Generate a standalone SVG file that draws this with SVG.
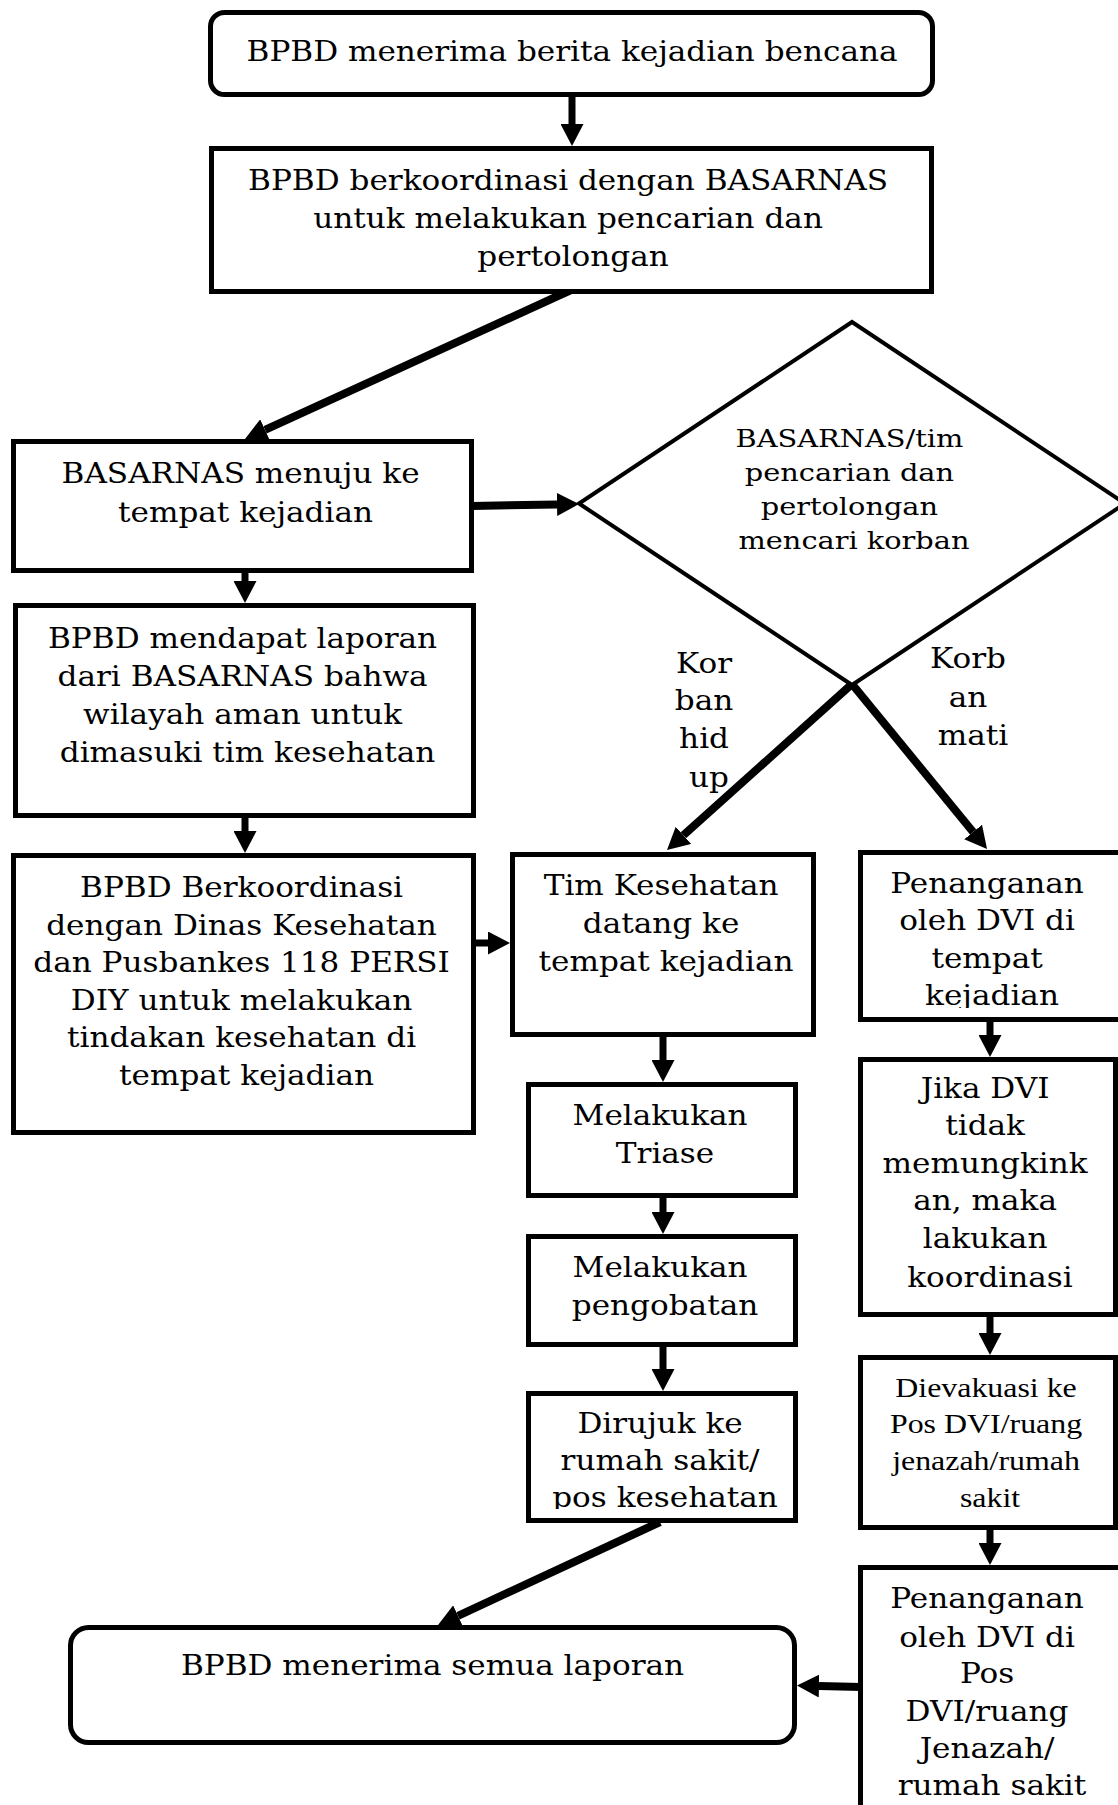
<svg xmlns="http://www.w3.org/2000/svg" width="1118" height="1805" viewBox="0 0 1118 1805">
<style>
.box{fill:#fff;stroke:#000;stroke-width:5}
.dia{fill:#fff;stroke:#000;stroke-width:4}
.t{font-family:"DejaVu Serif",serif;font-size:27px;fill:#000;text-anchor:middle}
.ts{font-family:"DejaVu Serif",serif;font-size:25px;fill:#000;text-anchor:middle}
.tt{font-family:"Liberation Serif",serif;font-size:27.7px;fill:#000;text-anchor:middle}
.c{stroke:#000;fill:none;marker-end:url(#ah)}
.thin{stroke-width:7}
.thick{stroke-width:8}
</style>
<defs>
<marker id="ah" markerUnits="userSpaceOnUse" markerWidth="22" markerHeight="23" viewBox="0 0 22 23" refX="0" refY="11.5" orient="auto"><path d="M0,0 L22,11.5 L0,23 z" fill="#000"/></marker>
<clipPath id="clip7"><rect x="850" y="840" width="280" height="168"/></clipPath>
<clipPath id="clipDir"><rect x="520" y="1385" width="290" height="124"/></clipPath>
</defs>
<rect width="1118" height="1805" fill="#fff"/>

<g id="connectors">
<line class="c thin" x1="572" y1="96" x2="572" y2="124"/>
<line class="c thick" x1="571" y1="290" x2="265" y2="429.8"/>
<line class="c thick" x1="472" y1="506" x2="557" y2="504.5"/>
<line class="c thin" x1="245" y1="571" x2="245" y2="581"/>
<line class="c thin" x1="245" y1="816" x2="245" y2="831"/>
<line class="c thin" x1="474" y1="943" x2="488" y2="943"/>
<line class="c thick" x1="852" y1="684" x2="683.4" y2="835.3"/>
<line class="c thick" x1="852" y1="684" x2="973.1" y2="832"/>
<line class="c thin" x1="663" y1="1035" x2="663" y2="1060"/>
<line class="c thin" x1="663" y1="1196" x2="663" y2="1212"/>
<line class="c thin" x1="663" y1="1345" x2="663" y2="1369"/>
<line class="c thick" x1="660" y1="1522" x2="458" y2="1615.8"/>
<line class="c thin" x1="990" y1="1020" x2="990" y2="1035"/>
<line class="c thin" x1="990" y1="1315" x2="990" y2="1333"/>
<line class="c thin" x1="990" y1="1528" x2="990" y2="1543"/>
<line class="c thick" x1="861" y1="1687" x2="819" y2="1686"/>
</g>

<g id="n-start">
<rect class="box" x="210.5" y="12.5" width="722" height="82" rx="14"/>
<g transform="translate(572 0) scale(1.152 1)"><text class="t" x="0" y="61">BPBD menerima berita kejadian bencana</text></g>
</g>

<g id="n-koordinasi-basarnas">
<rect class="box" x="211.5" y="148.5" width="720" height="143"/>
<g transform="translate(573 0) scale(1.152 1)"><text class="t">
<tspan x="0" y="190">BPBD berkoordinasi dengan BASARNAS</tspan>
<tspan x="0" y="228">untuk melakukan pencarian dan</tspan>
<tspan x="0" y="266">pertolongan</tspan></text></g>
</g>

<g id="n-menuju">
<rect class="box" x="13.5" y="441.5" width="458" height="129"/>
<g transform="translate(245.5 0) scale(1.152 1)"><text class="t">
<tspan x="0" y="483">BASARNAS menuju ke</tspan>
<tspan x="0" y="522">tempat kejadian</tspan></text></g>
</g>

<g id="n-cari">
<polygon class="dia" points="852,322 1125,503.5 852,685 579,503.5"/>
<g transform="translate(854 0) scale(1.152 1)"><text class="ts">
<tspan x="0" y="447">BASARNAS/tim</tspan>
<tspan x="0" y="481">pencarian dan</tspan>
<tspan x="0" y="515">pertolongan</tspan>
<tspan x="0" y="549">mencari korban</tspan></text></g>
</g>

<g id="lbl-hidup">
<g transform="translate(709 0) scale(1.152 1)"><text class="t">
<tspan x="0" y="673">Kor</tspan>
<tspan x="0" y="710">ban</tspan>
<tspan x="0" y="748">hid</tspan>
<tspan x="0" y="787">up</tspan></text></g>
</g>
<g id="lbl-mati">
<g transform="translate(973 0) scale(1.152 1)"><text class="t">
<tspan x="0" y="668">Korb</tspan>
<tspan x="0" y="707">an</tspan>
<tspan x="0" y="745">mati</tspan></text></g>
</g>

<g id="n-laporan-aman">
<rect class="box" x="15.5" y="605.5" width="458" height="210"/>
<g transform="translate(247.5 0) scale(1.152 1)"><text class="t">
<tspan x="0" y="648">BPBD mendapat laporan</tspan>
<tspan x="0" y="686">dari BASARNAS bahwa</tspan>
<tspan x="0" y="724">wilayah aman untuk</tspan>
<tspan x="0" y="762">dimasuki tim kesehatan</tspan></text></g>
</g>

<g id="n-koordinasi-dinkes">
<rect class="box" x="13.5" y="855.5" width="460" height="277"/>
<g transform="translate(246.5 0) scale(1.152 1)"><text class="t">
<tspan x="0" y="897">BPBD Berkoordinasi</tspan>
<tspan x="0" y="935">dengan Dinas Kesehatan</tspan>
<tspan x="0" y="972">dan Pusbankes 118 PERSI</tspan>
<tspan x="0" y="1010">DIY untuk melakukan</tspan>
<tspan x="0" y="1047">tindakan kesehatan di</tspan>
<tspan x="0" y="1085">tempat kejadian</tspan></text></g>
</g>

<g id="n-tim-kesehatan">
<rect class="box" x="512.5" y="854.5" width="301" height="180"/>
<g transform="translate(666 0) scale(1.152 1)"><text class="t">
<tspan x="0" y="895">Tim Kesehatan</tspan>
<tspan x="0" y="933">datang ke</tspan>
<tspan x="0" y="971">tempat kejadian</tspan></text></g>
</g>

<g id="n-triase">
<rect class="box" x="528.5" y="1084.5" width="267" height="111"/>
<g transform="translate(665 0) scale(1.152 1)"><text class="t">
<tspan x="0" y="1125">Melakukan</tspan>
<tspan x="0" y="1163">Triase</tspan></text></g>
</g>

<g id="n-pengobatan">
<rect class="box" x="528.5" y="1236.5" width="267" height="108"/>
<g transform="translate(665 0) scale(1.152 1)"><text class="t">
<tspan x="0" y="1277">Melakukan</tspan>
<tspan x="0" y="1315">pengobatan</tspan></text></g>
</g>

<g id="n-dirujuk">
<rect class="box" x="528.5" y="1393.5" width="267" height="127"/>
<g clip-path="url(#clipDir)"><g transform="translate(665 0) scale(1.152 1)"><text class="t">
<tspan x="0" y="1433">Dirujuk ke</tspan>
<tspan x="0" y="1470">rumah sakit/</tspan>
<tspan x="0" y="1507">pos kesehatan</tspan></text></g></g>
</g>

<g id="n-dvi-tempat">
<rect class="box" x="860.5" y="852.5" width="270" height="167"/>
<g clip-path="url(#clip7)"><g transform="translate(992 0) scale(1.152 1)"><text class="t">
<tspan x="0" y="893">Penanganan</tspan>
<tspan x="0" y="930">oleh DVI di</tspan>
<tspan x="0" y="968">tempat</tspan>
<tspan x="0" y="1005">kejadian</tspan></text></g></g>
</g>

<g id="n-jika-dvi">
<rect class="box" x="860.5" y="1059.5" width="255" height="255"/>
<g transform="translate(990 0) scale(1.152 1)"><text class="t">
<tspan x="0" y="1098">Jika DVI</tspan>
<tspan x="0" y="1135">tidak</tspan>
<tspan x="0" y="1173">memungkink</tspan>
<tspan x="0" y="1210">an, maka</tspan>
<tspan x="0" y="1248">lakukan</tspan>
<tspan x="0" y="1287">koordinasi</tspan></text></g>
</g>

<g id="n-evakuasi">
<rect class="box" x="860.5" y="1357.5" width="255" height="170"/>
<g transform="translate(990 0) scale(1.152 1)"><text class="tt">
<tspan x="0" y="1397">Dievakuasi ke</tspan>
<tspan x="0" y="1433">Pos DVI/ruang</tspan>
<tspan x="0" y="1470">jenazah/rumah</tspan>
<tspan x="0" y="1507">sakit</tspan></text></g>
</g>

<g id="n-dvi-pos">
<rect class="box" x="860.5" y="1567.5" width="270" height="260"/>
<g transform="translate(992 0) scale(1.152 1)"><text class="t">
<tspan x="0" y="1608">Penanganan</tspan>
<tspan x="0" y="1647">oleh DVI di</tspan>
<tspan x="0" y="1683">Pos</tspan>
<tspan x="0" y="1721">DVI/ruang</tspan>
<tspan x="0" y="1758">Jenazah/</tspan>
<tspan x="0" y="1795">rumah sakit</tspan></text></g>
</g>

<g id="n-end">
<rect class="box" x="70.5" y="1627.5" width="724" height="115" rx="18"/>
<g transform="translate(432.5 0) scale(1.152 1)"><text class="t" x="0" y="1675">BPBD menerima semua laporan</text></g>
</g>
</svg>
